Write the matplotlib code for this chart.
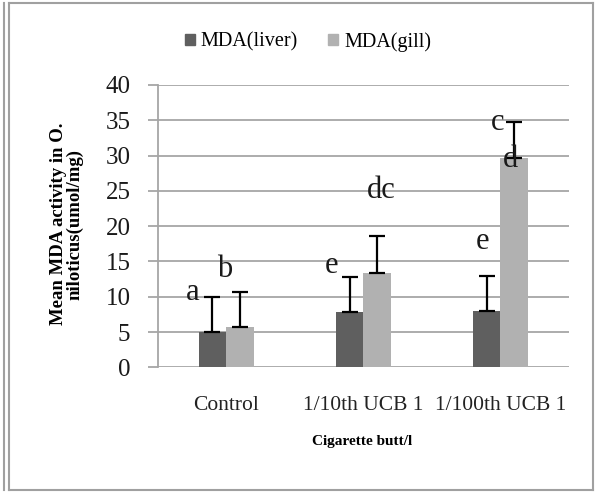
import matplotlib
matplotlib.use("Agg")
import matplotlib.pyplot as plt
from matplotlib.patches import Patch
from matplotlib.lines import Line2D
import numpy as np

categories = ["Control", "1/10th UCB 1", "1/100th UCB 1"]
liver = [5.05, 7.8, 7.95]
gill = [5.76, 13.3, 29.6]
liver_err = [4.95, 5.0, 5.0]
gill_err = [4.95, 5.3, 5.1]
yticks = [0, 5, 10, 15, 20, 25, 30, 35, 40]
letters = ["a", "b", "e", "dc", "e", "c", "d"]
letter_pos = [(-0.245, 9.6), (-0.01, 12.85), (0.77, 13.4), (1.13, 24.0),
              (1.87, 16.8), (1.98, 33.6), (2.07, 28.4)]

plt.rcParams['font.family'] = ['Liberation Serif', 'DejaVu Serif']

W, H = 595, 493
fig = plt.figure(figsize=(W / 100, H / 100), dpi=100)
ax = fig.add_axes([157.5 / W, 1 - 367.3 / H, 411.5 / W, 282.3 / H])

liver_c = "#5f5f5f"
gill_c = "#b1b1b1"
grid_c = "#a6a6a6"

x = np.arange(len(categories))
bw = 0.2
ax.bar(x - bw / 2, liver, bw, color=liver_c, zorder=2)
ax.bar(x + bw / 2, gill, bw, color=gill_c, zorder=2)
ax.errorbar(x - bw / 2, liver, yerr=[np.zeros(3), liver_err], fmt="none",
            ecolor="black", elinewidth=1.6, capsize=5.5, capthick=1.6, zorder=3)
ax.errorbar(x + bw / 2, gill, yerr=[np.zeros(3), gill_err], fmt="none",
            ecolor="black", elinewidth=1.6, capsize=5.5, capthick=1.6, zorder=3)

for t, (lx, ly) in zip(letters, letter_pos):
    ax.text(lx, ly, t, ha="center", va="baseline", fontsize=22, color="#1a1a1a", zorder=4)

ax.set_xlim(-0.5, 2.5)
ax.set_ylim(0, 40)
ax.set_yticks(yticks)
ax.set_yticklabels([str(v) for v in yticks], fontsize=18)
ax.set_xticks(x)
ax.set_xticklabels(categories, fontsize=15.5, color="#222222")
ax.yaxis.grid(True, color=grid_c, linewidth=1.3, zorder=0)
ax.set_axisbelow(True)
for s in ["top", "right", "bottom"]:
    ax.spines[s].set_visible(False)
ax.spines["left"].set_color(grid_c)
ax.spines["left"].set_linewidth(1.3)
ax.tick_params(axis="y", length=7.5, width=1.3, color=grid_c, pad=12, labelcolor="#1a1a1a")
ax.tick_params(axis="x", length=0, pad=21)

fig.text(362 / W, 1 - 441 / H, "Cigarette butt/l", ha="center", va="center",
         fontsize=11, fontweight="bold")
fig.text(67 / W, 1 - 224 / H, "Mean MDA activity in O.\nniloticus(umol/mg)", ha="center",
         va="center", rotation=90, fontsize=13.5, fontweight="bold", linespacing=0.95,
         multialignment="center")

handles = [Patch(color=liver_c, label="MDA(liver)"), Patch(color=gill_c, label="MDA(gill)")]
fig.legend(handles=handles, loc="center", bbox_to_anchor=(308 / W, 1 - 42 / H), ncol=2,
           frameon=False, fontsize=14.5, handlelength=0.5, handleheight=0.5,
           handletextpad=0.3, columnspacing=1.5, borderpad=0)

bc = "#a0a0a0"
fig.add_artist(Line2D([9 / W, 593 / W], [1 - 3 / H, 1 - 3 / H], color=bc, lw=1.5))
fig.add_artist(Line2D([9 / W, 593 / W], [1 - 490 / H, 1 - 490 / H], color=bc, lw=1.5))
fig.add_artist(Line2D([9 / W, 9 / W], [1 - 3 / H, 1 - 490 / H], color=bc, lw=1.5))
fig.add_artist(Line2D([4 / W, 4 / W], [1 - 3 / H, 1 - 490 / H], color=bc, lw=1.5))
fig.add_artist(Line2D([593 / W, 593 / W], [1 - 3 / H, 1 - 490 / H], color=bc, lw=1.5))

fig.savefig("out.png", dpi=100)
